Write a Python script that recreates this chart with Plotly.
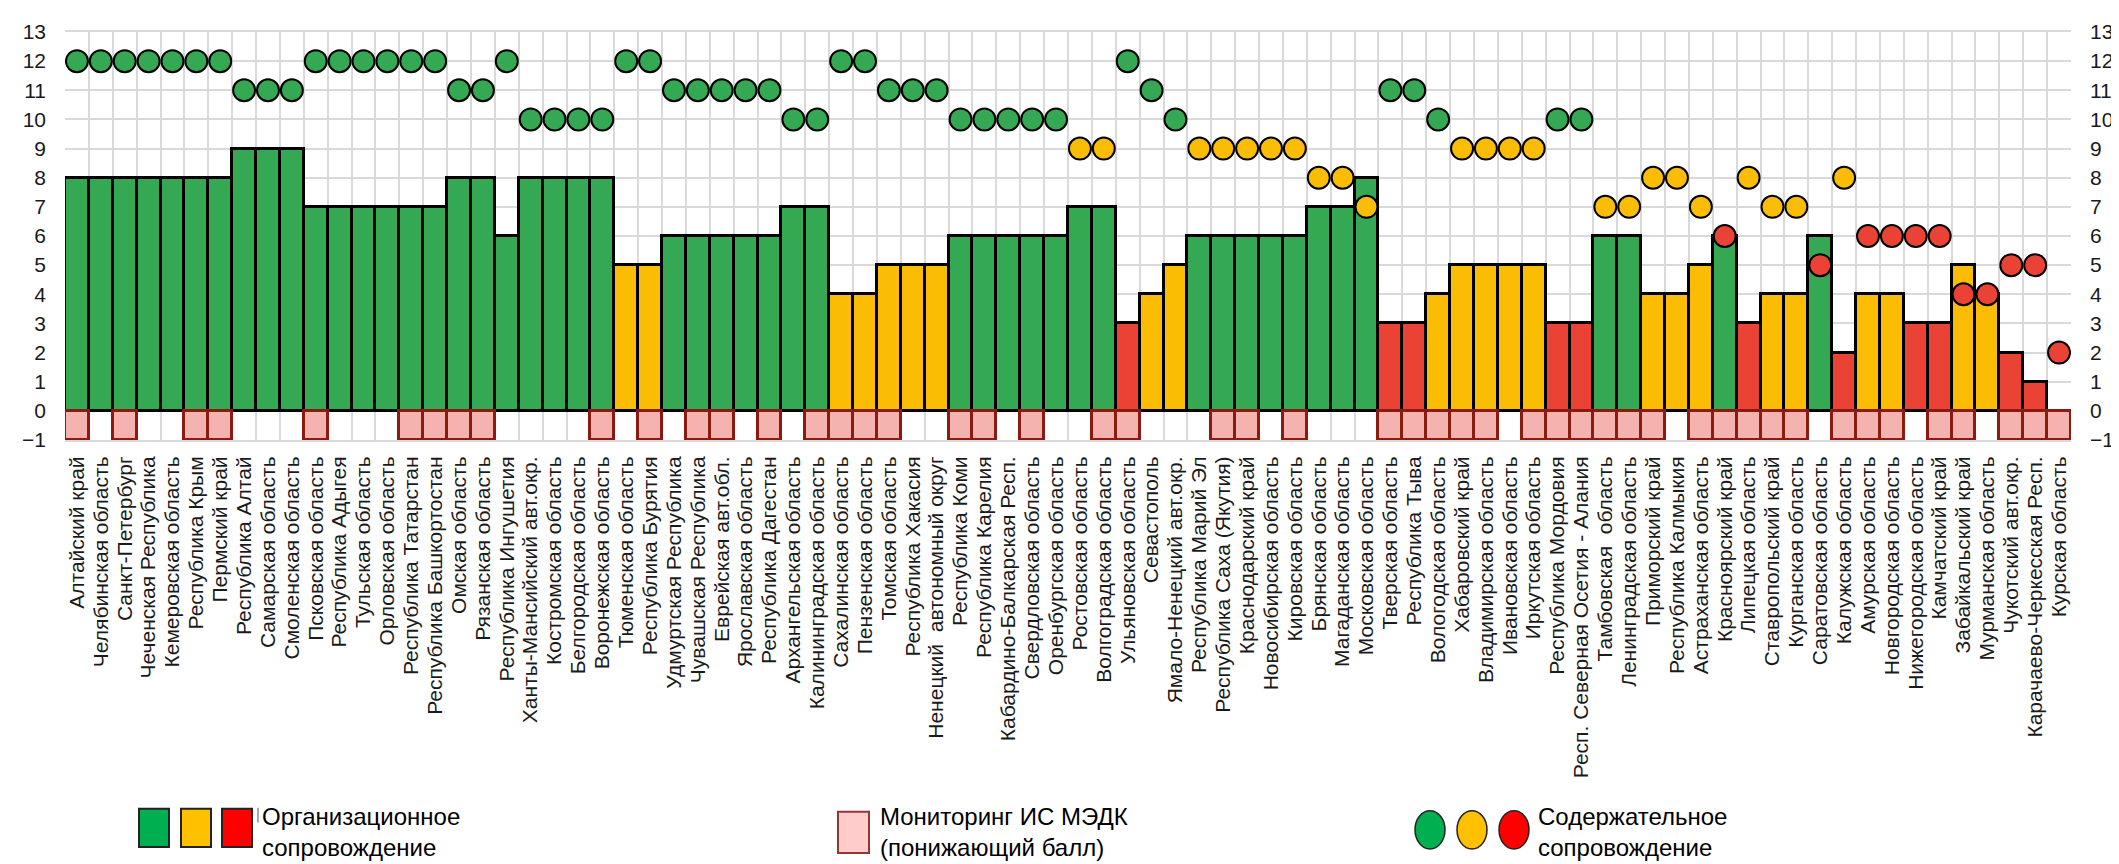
import plotly.graph_objects as go

# ---------------- data ----------------
categories = [
    "Алтайский край", "Челябинская область", "Санкт-Петербург", "Чеченская Республика",
    "Кемеровская область", "Республика Крым", "Пермский край", "Республика Алтай",
    "Самарская область", "Смоленская область", "Псковская область", "Республика Адыгея",
    "Тульская область", "Орловская область", "Республика Татарстан", "Республика Башкортостан",
    "Омская область", "Рязанская область", "Республика Ингушетия", "Ханты-Мансийский авт.окр.",
    "Костромская область", "Белгородская область", "Воронежская область", "Тюменская область",
    "Республика Бурятия", "Удмуртская Республика", "Чувашская Республика", "Еврейская авт.обл.",
    "Ярославская область", "Республика Дагестан", "Архангельская область", "Калининградская область",
    "Сахалинская область", "Пензенская область", "Томская область", "Республика Хакасия",
    "Ненецкий  автономный округ", "Республика Коми", "Республика Карелия", "Кабардино-Балкарская Респ.",
    "Свердловская область", "Оренбургская область", "Ростовская область", "Волгоградская область",
    "Ульяновская область", "Севастополь", "Ямало-Ненецкий авт.окр.", "Республика Марий Эл",
    "Республика Саха (Якутия)", "Краснодарский край", "Новосибирская область", "Кировская область",
    "Брянская область", "Магаданская область", "Московская область", "Тверская область",
    "Республика Тыва", "Вологодская область", "Хабаровский край", "Владимирская область",
    "Ивановская область", "Иркутская область", "Республика Мордовия", "Респ. Северная Осетия - Алания",
    "Тамбовская  область", "Ленинградская область", "Приморский край", "Республика Калмыкия",
    "Астраханская область", "Красноярский край", "Липецкая область", "Ставропольский край",
    "Курганская область", "Саратовская область", "Калужская область", "Амурская область",
    "Новгородская область", "Нижегородская область", "Камчатский край", "Забайкальский край",
    "Мурманская область", "Чукотский авт.окр.", "Карачаево-Черкесская Респ.", "Курская область",
]

# Организационное сопровождение (bar height) and its level
org_score = [
    8, 8, 8, 8, 8, 8, 8, 9, 9, 9,
    7, 7, 7, 7, 7, 7, 8, 8, 6, 8,
    8, 8, 8, 5, 5, 6, 6, 6, 6, 6,
    7, 7, 4, 4, 5, 5, 5, 6, 6, 6,
    6, 6, 7, 7, 3, 4, 5, 6, 6, 6,
    6, 6, 7, 7, 8, 3, 3, 4, 5, 5,
    5, 5, 3, 3, 6, 6, 4, 4, 5, 6,
    3, 4, 4, 6, 2, 4, 4, 3, 3, 5,
    4, 2, 1, None,
]
org_level = [
    "G", "G", "G", "G", "G", "G", "G", "G", "G", "G",
    "G", "G", "G", "G", "G", "G", "G", "G", "G", "G",
    "G", "G", "G", "Y", "Y", "G", "G", "G", "G", "G",
    "G", "G", "Y", "Y", "Y", "Y", "Y", "G", "G", "G",
    "G", "G", "G", "G", "R", "Y", "Y", "G", "G", "G",
    "G", "G", "G", "G", "G", "R", "R", "Y", "Y", "Y",
    "Y", "Y", "R", "R", "G", "G", "Y", "Y", "Y", "G",
    "R", "Y", "Y", "G", "R", "Y", "Y", "R", "R", "Y",
    "Y", "R", "R", "R",
]

# Содержательное сопровождение (dot) and its level
content_score = [
    12, 12, 12, 12, 12, 12, 12, 11, 11, 11,
    12, 12, 12, 12, 12, 12, 11, 11, 12, 10,
    10, 10, 10, 12, 12, 11, 11, 11, 11, 11,
    10, 10, 12, 12, 11, 11, 11, 10, 10, 10,
    10, 10, 9, 9, 12, 11, 10, 9, 9, 9,
    9, 9, 8, 8, 7, 11, 11, 10, 9, 9,
    9, 9, 10, 10, 7, 7, 8, 8, 7, 6,
    8, 7, 7, 5, 8, 6, 6, 6, 6, 4,
    4, 5, 5, 2,
]
content_level = [
    "G", "G", "G", "G", "G", "G", "G", "G", "G", "G",
    "G", "G", "G", "G", "G", "G", "G", "G", "G", "G",
    "G", "G", "G", "G", "G", "G", "G", "G", "G", "G",
    "G", "G", "G", "G", "G", "G", "G", "G", "G", "G",
    "G", "G", "Y", "Y", "G", "G", "G", "Y", "Y", "Y",
    "Y", "Y", "Y", "Y", "Y", "G", "G", "G", "Y", "Y",
    "Y", "Y", "G", "G", "Y", "Y", "Y", "Y", "Y", "R",
    "Y", "Y", "Y", "R", "Y", "R", "R", "R", "R", "R",
    "R", "R", "R", "R",
]

# Мониторинг ИС МЭДК (понижающий балл): -1 where applied, 0 otherwise
monitoring_penalty = [
    -1, 0, -1, 0, 0, -1, -1, 0, 0, 0,
    -1, 0, 0, 0, -1, -1, -1, -1, 0, 0,
    0, 0, -1, 0, -1, 0, -1, -1, 0, -1,
    0, -1, -1, -1, -1, 0, 0, -1, -1, 0,
    -1, 0, 0, -1, -1, 0, 0, 0, -1, -1,
    0, -1, 0, 0, 0, -1, -1, -1, -1, -1,
    0, -1, -1, -1, -1, -1, -1, 0, -1, -1,
    -1, -1, -1, 0, -1, -1, -1, 0, -1, -1,
    0, -1, -1, -1,
]

y_ticks = list(range(-1, 14))

legend_org_text = "Организационное<br>сопровождение"
legend_mon_text = "Мониторинг ИС МЭДК<br>(понижающий балл)"
legend_content_text = "Содержательное<br>сопровождение"

# ---------------- styling ----------------
CHART_COLORS = {"G": "#34A853", "Y": "#FBBC04", "R": "#EA4335"}
LEGEND_COLORS = {"G": "#00B050", "Y": "#FFC000", "R": "#FF0000"}
PINK = "#F5B3AF"
PINK_EDGE = "#8B1A10"
GRID = "#D9D9D9"
FONT = "Liberation Sans, Arial, sans-serif"
NARROW = "Liberation Sans Narrow, Arial Narrow, Liberation Sans, Arial, sans-serif"

W, H = 2119, 864
ML, MR, MT, MB = 57, 56, 16, 432
PW = W - ML - MR
PH = H - MT - MB


def px_x(x):
    return (x - ML) / PW


def px_y(y):
    return (H - MB - y) / PH


fig = go.Figure()

fig.add_trace(go.Bar(
    x=categories, y=org_score,
    marker=dict(color=[CHART_COLORS[c] for c in org_level],
                line=dict(color="black", width=3)),
    width=1, showlegend=False, hoverinfo="x+y",
))

fig.add_trace(go.Bar(
    x=categories, y=[v if v != 0 else None for v in monitoring_penalty],
    marker=dict(color=PINK, line=dict(color=PINK_EDGE, width=3)),
    width=1, showlegend=False, hoverinfo="x+y",
))

fig.add_trace(go.Scatter(
    x=categories, y=content_score, mode="markers",
    marker=dict(size=22, color=[CHART_COLORS[c] for c in content_level],
                line=dict(color="black", width=2)),
    showlegend=False, hoverinfo="x+y",
))

# helper trace so the right-hand axis is drawn
fig.add_trace(go.Scatter(
    x=[categories[0]], y=[0], yaxis="y2", mode="markers",
    marker=dict(opacity=0), showlegend=False, hoverinfo="skip",
))

shapes = []
annotations = []

# legend: organisational squares
for x0, lvl in zip([131, 173, 214], ["G", "Y", "R"]):
    shapes.append(dict(type="rect", xref="paper", yref="paper",
                       x0=px_x(x0), x1=px_x(x0 + 30), y0=px_y(847), y1=px_y(808),
                       fillcolor=LEGEND_COLORS[lvl], line=dict(color="#222222", width=2)))
shapes.append(dict(type="line", xref="paper", yref="paper",
                   x0=px_x(250), x1=px_x(250), y0=px_y(822), y1=px_y(807),
                   line=dict(color="#555555", width=1)))
annotations.append(dict(xref="paper", yref="paper", x=px_x(252), y=px_y(832),
                        xanchor="left", yanchor="middle", align="left", showarrow=False,
                        text=legend_org_text, font=dict(family=NARROW, size=24, color="black")))

# legend: monitoring square
shapes.append(dict(type="rect", xref="paper", yref="paper",
                   x0=px_x(830), x1=px_x(861), y0=px_y(853), y1=px_y(811),
                   fillcolor="#FFCCCC", line=dict(color="#943634", width=2)))
annotations.append(dict(xref="paper", yref="paper", x=px_x(870), y=px_y(832),
                        xanchor="left", yanchor="middle", align="left", showarrow=False,
                        text=legend_mon_text, font=dict(family=NARROW, size=24, color="black")))

# legend: content circles
for x0, lvl in zip([1407, 1449, 1491], ["G", "Y", "R"]):
    shapes.append(dict(type="circle", xref="paper", yref="paper",
                       x0=px_x(x0), x1=px_x(x0 + 30), y0=px_y(849), y1=px_y(810),
                       fillcolor=LEGEND_COLORS[lvl], line=dict(color="#222222", width=1.5)))
annotations.append(dict(xref="paper", yref="paper", x=px_x(1528), y=px_y(832),
                        xanchor="left", yanchor="middle", align="left", showarrow=False,
                        text=legend_content_text, font=dict(family=NARROW, size=24, color="black")))

fig.update_layout(
    width=W, height=H,
    margin=dict(l=ML, r=MR, t=MT, b=MB, pad=0),
    paper_bgcolor="white", plot_bgcolor="white",
    barmode="overlay", bargap=0,
    font=dict(family=FONT, color="#1a1a1a"),
    shapes=shapes, annotations=annotations,
    xaxis=dict(
        type="category", tickangle=-90, tickson="boundaries",
        tickmode="array", tickvals=categories, ticktext=categories,
        showgrid=True, gridcolor=GRID, gridwidth=2,
        ticks="", tickfont=dict(size=21, family=FONT, color="#1a1a1a"),
        ticklabelstandoff=6,
        showline=True, linecolor=GRID, linewidth=2, mirror=True,
        range=[-0.5, len(categories) - 0.5],
    ),
    yaxis=dict(
        range=[-1, 13], tickvals=y_ticks, showgrid=True, gridcolor=GRID, gridwidth=2,
        zeroline=True, zerolinecolor="#808080", zerolinewidth=2,
        ticks="", tickfont=dict(size=21, family=FONT, color="#1a1a1a"),
        ticklabelstandoff=18,
        showline=False,
    ),
    yaxis2=dict(
        range=[-1, 13], tickvals=y_ticks, overlaying="y", side="right",
        showgrid=False, zeroline=False, ticks="",
        tickfont=dict(size=21, family=FONT, color="#1a1a1a"),
        ticklabelstandoff=18,
    ),
)

fig.write_html("out.html")
